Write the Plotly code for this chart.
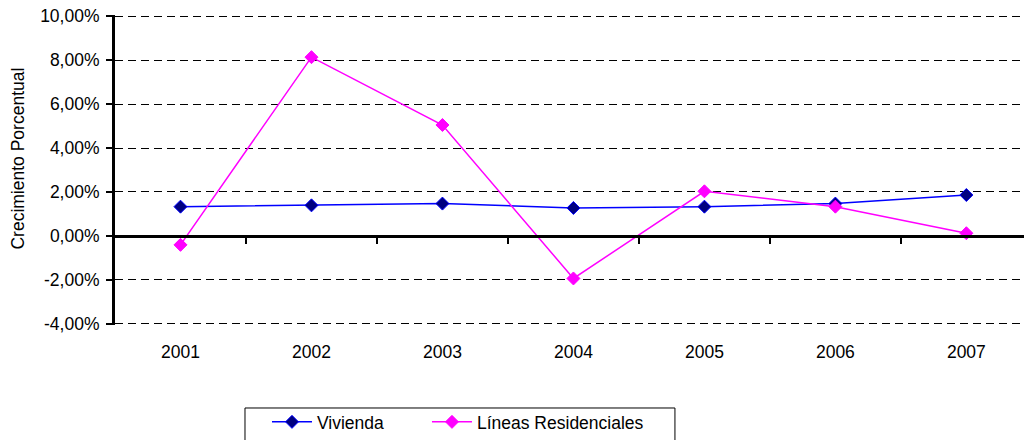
import plotly.graph_objects as go

years = ["2001", "2002", "2003", "2004", "2005", "2006", "2007"]
vivienda = [1.33, 1.39, 1.47, 1.27, 1.33, 1.47, 1.86]
lineas = [-0.41, 8.14, 5.05, -1.94, 2.03, 1.33, 0.12]
y_ticks = [-4, -2, 0, 2, 4, 6, 8, 10]
y_ticktext = [f"{v:.2f}".replace(".", ",") + "%" for v in y_ticks]

xi = list(range(len(years)))
boundaries = [i + 0.5 for i in xi[:-1]]

FONT = "Liberation Sans, Arial, sans-serif"
FS = 17.5

fig = go.Figure()
fig.add_trace(go.Scatter(
    x=xi, y=vivienda, name="Vivienda", mode="lines+markers",
    line=dict(color="#0000FF", width=1.5),
    marker=dict(symbol="diamond", size=10, color="#000080",
                line=dict(color="#0000FF", width=1)),
    legend="legend",
))
fig.add_trace(go.Scatter(
    x=xi, y=lineas, name="Líneas Residenciales", mode="lines+markers",
    line=dict(color="#FF00FF", width=1.5),
    marker=dict(symbol="diamond", size=10, color="#FF00FF",
                line=dict(color="#FF00FF", width=1)),
    legend="legend2",
))
# invisible trace to anchor the zero-line axis
fig.add_trace(go.Scatter(x=[xi[0]], y=[0], xaxis="x2", mode="markers",
                         marker=dict(opacity=0), showlegend=False,
                         hoverinfo="skip"))

xrange = [-0.5, 6.44]
yrange = [-4.06, 10.06]
zero_pos = (0 - yrange[0]) / (yrange[1] - yrange[0])

leg_common = dict(orientation="h", xanchor="left", yanchor="top",
                  borderwidth=0, bgcolor="rgba(0,0,0,0)",
                  font=dict(size=FS, family=FONT), itemwidth=40)
fig.update_layout(
    width=1024, height=440,
    paper_bgcolor="white", plot_bgcolor="white",
    margin=dict(l=115, r=0, t=15, b=115, autoexpand=False),
    font=dict(family=FONT, size=FS, color="black"),
    xaxis=dict(
        range=xrange, tickvals=xi, ticktext=years, showgrid=False,
        showline=False, zeroline=False, ticks="", ticklabelstandoff=14,
        tickfont=dict(size=FS), automargin=False,
    ),
    xaxis2=dict(
        overlaying="x", anchor="free", position=zero_pos, range=xrange,
        tickvals=boundaries, showticklabels=False, showgrid=False,
        zeroline=False, showline=True, linecolor="black", linewidth=3,
        ticks="outside", ticklen=6, tickwidth=2, tickcolor="black",
    ),
    yaxis=dict(
        range=yrange, tickvals=y_ticks, ticktext=y_ticktext,
        showgrid=True, gridcolor="black", gridwidth=1, griddash="8px,5px",
        zeroline=False, showline=True, linecolor="black", linewidth=3,
        ticks="outside", ticklen=6, tickwidth=2, tickcolor="black",
        tickfont=dict(size=FS), automargin=False, ticklabelstandoff=3,
    ),
    annotations=[dict(text="Crecimiento Porcentual", textangle=-90,
                      xref="paper", yref="paper", x=-0.1067, y=0.537,
                      xanchor="center", yanchor="middle", showarrow=False,
                      font=dict(size=FS, family=FONT, color="black"))],
    legend=dict(x=0.1672, y=-0.2548, **leg_common),
    legend2=dict(x=0.3432, y=-0.2548, **leg_common),
    shapes=[dict(type="rect", xref="paper", yref="paper",
                 x0=0.143, x1=0.616, y0=-0.40, y1=-0.2677,
                 line=dict(color="black", width=1), fillcolor="rgba(0,0,0,0)",
                 layer="below")],
    showlegend=True,
)

fig.write_html("out.html", config={"displayModeBar": False},
               post_script="document.body.style.margin='0';")
